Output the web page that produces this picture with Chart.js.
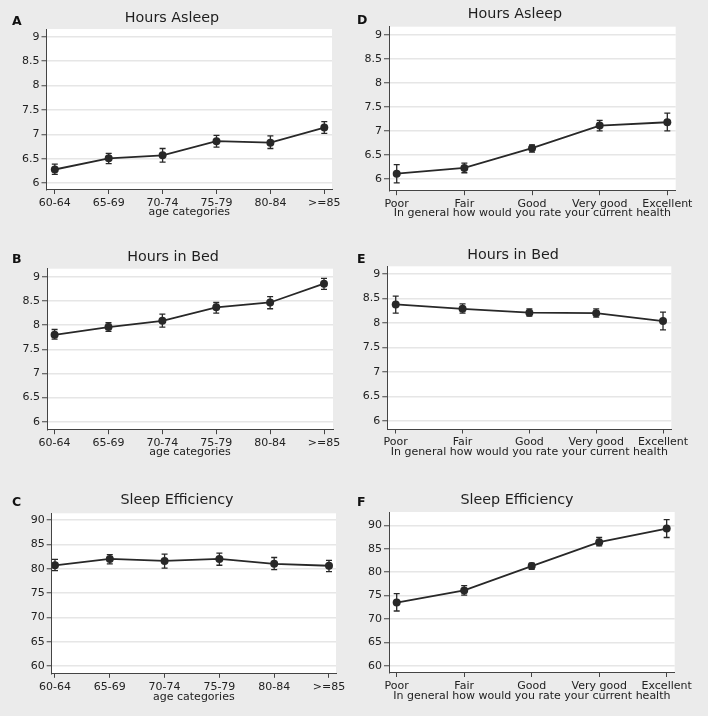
<!DOCTYPE html>
<html>
<head>
<meta charset="utf-8">
<script src="https://cdn.jsdelivr.net/npm/chart.js@4.4.0/dist/chart.umd.min.js"></script>
<style>
html, body { margin: 0; padding: 0; background: #ebebeb; }
body { width: 708px; height: 716px; position: relative; overflow: hidden; font-family: "DejaVu Sans", sans-serif; }
.panel { position: absolute; }
.panel canvas { display: block; }
.letter { position: absolute; font-weight: bold; font-size: 12.5px; line-height: 12.5px; color: #111; }
</style>
</head>
<body>
<div class="panel" style="left:0px;top:0px"><canvas id="chartA" width="354" height="238"></canvas></div>
<div class="panel" style="left:0px;top:238px"><canvas id="chartB" width="354" height="238"></canvas></div>
<div class="panel" style="left:0px;top:476px"><canvas id="chartC" width="354" height="240"></canvas></div>
<div class="panel" style="left:354px;top:0px"><canvas id="chartD" width="354" height="238"></canvas></div>
<div class="panel" style="left:354px;top:238px"><canvas id="chartE" width="354" height="238"></canvas></div>
<div class="panel" style="left:354px;top:476px"><canvas id="chartF" width="354" height="240"></canvas></div>
<div class="letter" style="left:12px;top:15px">A</div>
<div class="letter" style="left:12px;top:253px">B</div>
<div class="letter" style="left:12px;top:496px">C</div>
<div class="letter" style="left:357px;top:13.5px">D</div>
<div class="letter" style="left:357px;top:253px">E</div>
<div class="letter" style="left:357px;top:496px">F</div>
<script>
// categories and tick labels
const ageCategories = ['60-64', '65-69', '70-74', '75-79', '80-84', '>=85'];
const healthCategories = ['Poor', 'Fair', 'Good', 'Very good', 'Excellent'];
const hourTicks = [6, 6.5, 7, 7.5, 8, 8.5, 9];
const effTicks = [60, 65, 70, 75, 80, 85, 90];

// means with lower / upper error bar ends
const asleepByAge = [6.28, 6.51, 6.57, 6.86, 6.83, 7.14];
const asleepByAgeLow = [6.18, 6.40, 6.43, 6.74, 6.71, 7.02];
const asleepByAgeHigh = [6.39, 6.61, 6.71, 6.98, 6.97, 7.26];

const bedByAge = [7.80, 7.96, 8.09, 8.37, 8.47, 8.86];
const bedByAgeLow = [7.71, 7.87, 7.96, 8.25, 8.34, 8.74];
const bedByAgeHigh = [7.91, 8.05, 8.23, 8.47, 8.59, 8.97];

const effByAge = [80.7, 82.0, 81.6, 82.0, 81.0, 80.6];
const effByAgeLow = [79.6, 81.0, 80.1, 80.7, 79.8, 79.4];
const effByAgeHigh = [81.9, 82.9, 83.0, 83.2, 82.3, 81.7];

const asleepByHealth = [6.11, 6.23, 6.64, 7.11, 7.18];
const asleepByHealthLow = [5.92, 6.13, 6.56, 7.00, 7.00];
const asleepByHealthHigh = [6.30, 6.33, 6.71, 7.22, 7.37];

const bedByHealth = [8.38, 8.29, 8.21, 8.20, 8.04];
const bedByHealthLow = [8.20, 8.20, 8.14, 8.12, 7.86];
const bedByHealthHigh = [8.55, 8.39, 8.29, 8.29, 8.22];

const effByHealth = [73.5, 76.1, 81.3, 86.4, 89.3];
const effByHealthLow = [71.7, 75.1, 80.6, 85.6, 87.4];
const effByHealthHigh = [75.4, 77.1, 81.9, 87.4, 91.2];

const FONT = '"DejaVu Sans", sans-serif';
const TEXT = '#222222';
const AXIS = '#444444';
const MARK = '#282828';
const GRID = '#e6e6e6';

// page geometry of each panel (canvas box, plot area, title centres)
const panels = [
  { id: 'chartA', title: 'Hours Asleep', xTitle: 'age categories', cats: ageCategories, ticks: hourTicks,
    mean: asleepByAge, low: asleepByAgeLow, high: asleepByAgeHigh,
    yMin: 5.87, yMax: 9.16, xMin: 0.846, xMax: 6.143,
    box: { left: 0, top: 0, w: 354, h: 238 }, area: { left: 46.5, right: 332, top: 29, bottom: 189.5 },
    titleMid: 18.5, titleCenter: 172, xTitleMid: 212.3 },
  { id: 'chartB', title: 'Hours in Bed', xTitle: 'age categories', cats: ageCategories, ticks: hourTicks,
    mean: bedByAge, low: bedByAgeLow, high: bedByAgeHigh,
    yMin: 5.834, yMax: 9.17, xMin: 0.859, xMax: 6.167,
    box: { left: 0, top: 238, w: 354, h: 238 }, area: { left: 47, right: 333, top: 268.7, bottom: 429.7 },
    titleMid: 257, titleCenter: 173, xTitleMid: 452.5 },
  { id: 'chartC', title: 'Sleep Efficiency', xTitle: 'age categories', cats: ageCategories, ticks: effTicks,
    mean: effByAge, low: effByAgeLow, high: effByAgeHigh,
    yMin: 58.5, yMax: 91.38, xMin: 0.94, xMax: 6.128,
    box: { left: 0, top: 476, w: 354, h: 240 }, area: { left: 51.7, right: 336, top: 513.3, bottom: 673.3 },
    titleMid: 500.5, titleCenter: 177, xTitleMid: 697.3 },
  { id: 'chartD', title: 'Hours Asleep', xTitle: 'In general how would you rate your current health', cats: healthCategories, ticks: hourTicks,
    mean: asleepByHealth, low: asleepByHealthLow, high: asleepByHealthHigh,
    yMin: 5.757, yMax: 9.166, xMin: 0.886, xMax: 5.124,
    box: { left: 354, top: 0, w: 354, h: 238 }, area: { left: 389, right: 675.7, top: 26.7, bottom: 190.7 },
    titleMid: 14.5, titleCenter: 515, xTitleMid: 213 },
  { id: 'chartE', title: 'Hours in Bed', xTitle: 'In general how would you rate your current health', cats: healthCategories, ticks: hourTicks,
    mean: bedByHealth, low: bedByHealthLow, high: bedByHealthHigh,
    yMin: 5.837, yMax: 9.157, xMin: 0.874, xMax: 5.124,
    box: { left: 354, top: 238, w: 354, h: 238 }, area: { left: 387.3, right: 671.3, top: 266.3, bottom: 429 },
    titleMid: 255, titleCenter: 513, xTitleMid: 452 },
  { id: 'chartF', title: 'Sleep Efficiency', xTitle: 'In general how would you rate your current health', cats: healthCategories, ticks: effTicks,
    mean: effByHealth, low: effByHealthLow, high: effByHealthHigh,
    yMin: 58.57, yMax: 92.84, xMin: 0.886, xMax: 5.119,
    box: { left: 354, top: 476, w: 354, h: 240 }, area: { left: 389, right: 674.7, top: 512, bottom: 672.5 },
    titleMid: 500.5, titleCenter: 517, xTitleMid: 696.3 }
];

// white plot region
const plotBg = {
  id: 'plotBg',
  beforeDraw(chart) {
    const a = chart.chartArea;
    chart.ctx.save();
    chart.ctx.fillStyle = '#ffffff';
    chart.ctx.fillRect(a.left, a.top, a.right - a.left, a.bottom - a.top);
    chart.ctx.restore();
  }
};

// capped error bars from errLow / errHigh
const errorBars = {
  id: 'errorBars',
  afterDatasetsDraw(chart) {
    const ctx = chart.ctx;
    const ys = chart.scales.y;
    chart.data.datasets.forEach((ds, di) => {
      const meta = chart.getDatasetMeta(di);
      meta.data.forEach((pt, i) => {
        const top = ys.getPixelForValue(ds.errHigh[i]);
        const bot = ys.getPixelForValue(ds.errLow[i]);
        ctx.save();
        ctx.strokeStyle = MARK;
        ctx.lineWidth = 1.3;
        ctx.beginPath();
        ctx.moveTo(pt.x, top); ctx.lineTo(pt.x, bot);
        ctx.moveTo(pt.x - 3, top); ctx.lineTo(pt.x + 3, top);
        ctx.moveTo(pt.x - 3, bot); ctx.lineTo(pt.x + 3, bot);
        ctx.stroke();
        ctx.restore();
      });
    });
  }
};

function makePanel(p) {
  const b = p.box;
  const titleLH = 18;
  const xTitleHalf = 7;
  const padRight = b.w - (p.area.right - b.left);
  const padLeft = 2 * (p.titleCenter - b.left) - b.w + padRight;
  const yAxisW = p.area.left - b.left - padLeft;
  const padTop = p.titleMid - b.top - titleLH / 2;
  const titlePadBottom = p.area.top - b.top - padTop - titleLH;
  const xScaleBottom = p.xTitleMid - b.top + xTitleHalf;
  const xAxisH = xScaleBottom - (p.area.bottom - b.top);
  const padBottom = b.h - xScaleBottom;

  new Chart(document.getElementById(p.id), {
    type: 'line',
    data: {
      datasets: [{
        data: p.mean.map((v, i) => ({ x: i + 1, y: v })),
        errLow: p.low,
        errHigh: p.high,
        borderColor: MARK,
        borderWidth: 1.8,
        pointRadius: 4,
        pointBackgroundColor: MARK,
        pointBorderWidth: 0,
        tension: 0
      }]
    },
    options: {
      responsive: false,
      animation: false,
      devicePixelRatio: 1,
      layout: { padding: { left: padLeft, right: padRight, top: padTop, bottom: padBottom } },
      plugins: {
        legend: { display: false },
        tooltip: { enabled: false },
        title: {
          display: true,
          text: p.title,
          color: '#1e1e1e',
          font: { family: FONT, size: 14.3, weight: 'normal', lineHeight: titleLH / 14.3 },
          padding: { top: 0, bottom: titlePadBottom }
        }
      },
      scales: {
        x: {
          type: 'linear',
          min: p.xMin,
          max: p.xMax,
          afterBuildTicks: s => { s.ticks = p.cats.map((c, i) => ({ value: i + 1 })); },
          afterFit: s => { s.height = xAxisH; },
          ticks: {
            callback: v => p.cats[Math.round(v) - 1],
            autoSkip: false,
            maxRotation: 0,
            color: TEXT,
            font: { family: FONT, size: 11 },
            padding: 2.5
          },
          grid: { drawOnChartArea: false, drawTicks: true, tickLength: 4.5, tickColor: AXIS, tickWidth: 1 },
          border: { display: true, color: AXIS, width: 1 },
          title: {
            display: true,
            text: p.xTitle,
            color: TEXT,
            font: { family: FONT, size: 11, lineHeight: 14 / 11 },
            padding: { top: 0, bottom: 0 }
          }
        },
        y: {
          type: 'linear',
          min: p.yMin,
          max: p.yMax,
          afterBuildTicks: s => { s.ticks = p.ticks.map(v => ({ value: v })); },
          afterFit: s => { s.width = yAxisW; },
          ticks: {
            callback: v => String(v),
            color: TEXT,
            font: { family: FONT, size: 11 },
            padding: 2
          },
          grid: { color: GRID, lineWidth: 1.5, drawTicks: true, tickLength: 5, tickColor: AXIS, tickWidth: 1 },
          border: { display: true, color: AXIS, width: 1 }
        }
      }
    },
    plugins: [plotBg, errorBars]
  });
}

panels.forEach(makePanel);
</script>
</body>
</html>
